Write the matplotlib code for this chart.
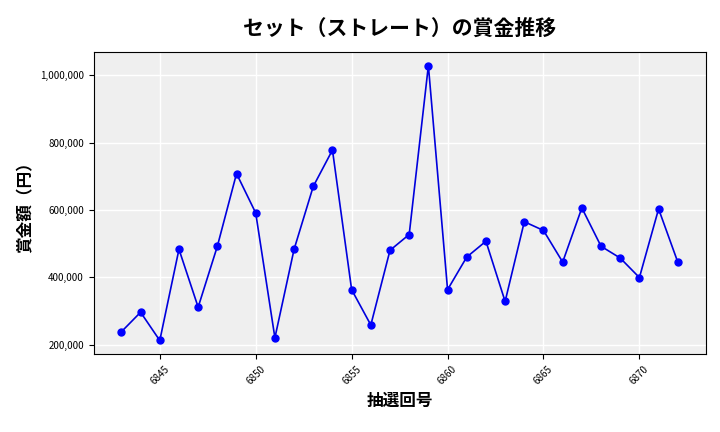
import matplotlib
matplotlib.use("Agg")
import matplotlib.pyplot as plt
from matplotlib.ticker import FuncFormatter, MultipleLocator

plt.rcParams['font.family'] = ['Noto Sans CJK JP', 'DejaVu Sans']

draws = list(range(6843, 6873))
prizes = [238000, 296000, 212000, 483000, 311000, 492000, 708000, 591000, 220000, 483000,
          670000, 778000, 363000, 258000, 480000, 527000, 1029000, 363000, 460000, 507000,
          328000, 565000, 539000, 445000, 606000, 492000, 457000, 399000, 603000, 445000]

fig, ax = plt.subplots(figsize=(7.2, 4.32), dpi=100)
ax.set_facecolor("#efefef")
ax.grid(True, color="white", linewidth=1)
ax.set_axisbelow(True)
ax.plot(draws, prizes, color="#0000dd", marker="o", markersize=5, linewidth=1.2,
        markerfacecolor="blue", markeredgecolor="blue")

ax.set_title("セット（ストレート）の賞金推移", fontsize=15, fontweight="bold", pad=12)
ax.set_xlabel("抽選回号", fontsize=12, fontweight="bold")
ax.set_ylabel("賞金額（円）", fontsize=12, fontweight="bold")
ax.set_xticks([6845, 6850, 6855, 6860, 6865, 6870])
ax.yaxis.set_major_locator(MultipleLocator(200000))
ax.yaxis.set_major_formatter(FuncFormatter(lambda v, p: f"{int(v):,}"))
ax.tick_params(axis="x", labelrotation=45, labelsize=7)
ax.tick_params(axis="y", labelsize=7)

fig.subplots_adjust(left=0.13, right=0.98, top=0.88, bottom=0.18)
fig.savefig("out.png")
